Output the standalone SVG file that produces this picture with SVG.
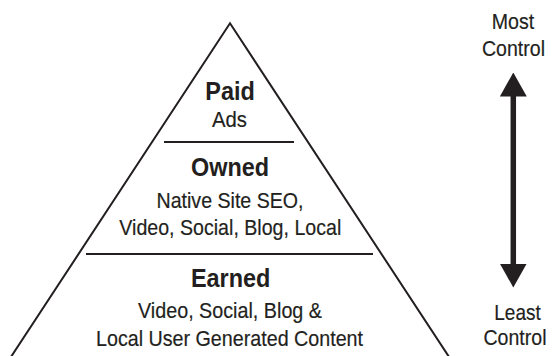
<svg xmlns="http://www.w3.org/2000/svg" width="553" height="356" viewBox="0 0 553 356">
  <style>
    .ink { stroke: #231f20; fill: none; }
    .edge { stroke-width: 2; }
    .div { stroke-width: 2; }
    text { font-family: "Liberation Sans", Arial, sans-serif; fill: #231f20; text-anchor: middle; }
    .title { font-size: 26.5px; font-weight: bold; }
    .body { font-size: 22.5px; stroke: #231f20; stroke-width: 0.2px; }
  </style>
  <defs>
    <marker id="head" viewBox="0 0 24 27" refX="1" refY="13.5" markerWidth="24" markerHeight="27" markerUnits="userSpaceOnUse" orient="auto-start-reverse">
      <path d="M0,0 L24,13.5 L0,27 Z" fill="#231f20"/>
    </marker>
  </defs>
  <rect width="553" height="356" fill="#ffffff"/>

  <g id="pyramid">
    <polyline class="ink edge" points="5,366 230,23.3 455,366" stroke-linejoin="miter"/>
    <line class="ink div" x1="164" y1="142" x2="294" y2="142"/>
    <line class="ink div" x1="86" y1="254" x2="373" y2="254"/>
  </g>

  <g id="node-paid">
    <text class="title" x="230" y="99.5" textLength="49.5" lengthAdjust="spacingAndGlyphs">Paid</text>
    <text class="body" x="229.5" y="126.7" textLength="35" lengthAdjust="spacingAndGlyphs">Ads</text>
  </g>

  <g id="node-owned">
    <text class="title" x="230" y="175.7" textLength="78" lengthAdjust="spacingAndGlyphs">Owned</text>
    <text class="body" x="230" y="208" textLength="147" lengthAdjust="spacingAndGlyphs">Native Site SEO,</text>
    <text class="body" x="230.3" y="234.5" textLength="222" lengthAdjust="spacingAndGlyphs">Video, Social, Blog, Local</text>
  </g>

  <g id="node-earned">
    <text class="title" x="230.7" y="287.3" textLength="79.5" lengthAdjust="spacingAndGlyphs">Earned</text>
    <text class="body" x="230" y="318.3" textLength="184" lengthAdjust="spacingAndGlyphs">Video, Social, Blog &amp;</text>
    <text class="body" x="229.5" y="345.5" textLength="267" lengthAdjust="spacingAndGlyphs">Local User Generated Content</text>
  </g>

  <g id="node-most">
    <text class="body" x="513" y="29.3" textLength="42.5" lengthAdjust="spacingAndGlyphs">Most</text>
    <text class="body" x="513.5" y="56" textLength="63" lengthAdjust="spacingAndGlyphs">Control</text>
  </g>

  <g id="node-least">
    <text class="body" x="517.5" y="319.5" textLength="46.5" lengthAdjust="spacingAndGlyphs">Least</text>
    <text class="body" x="515" y="344.5" textLength="63" lengthAdjust="spacingAndGlyphs">Control</text>
  </g>

  <g id="connectors">
    <line class="ink" stroke-width="5.5" x1="513.3" y1="95.5" x2="513.3" y2="264.5" marker-start="url(#head)" marker-end="url(#head)"/>
  </g>
</svg>
